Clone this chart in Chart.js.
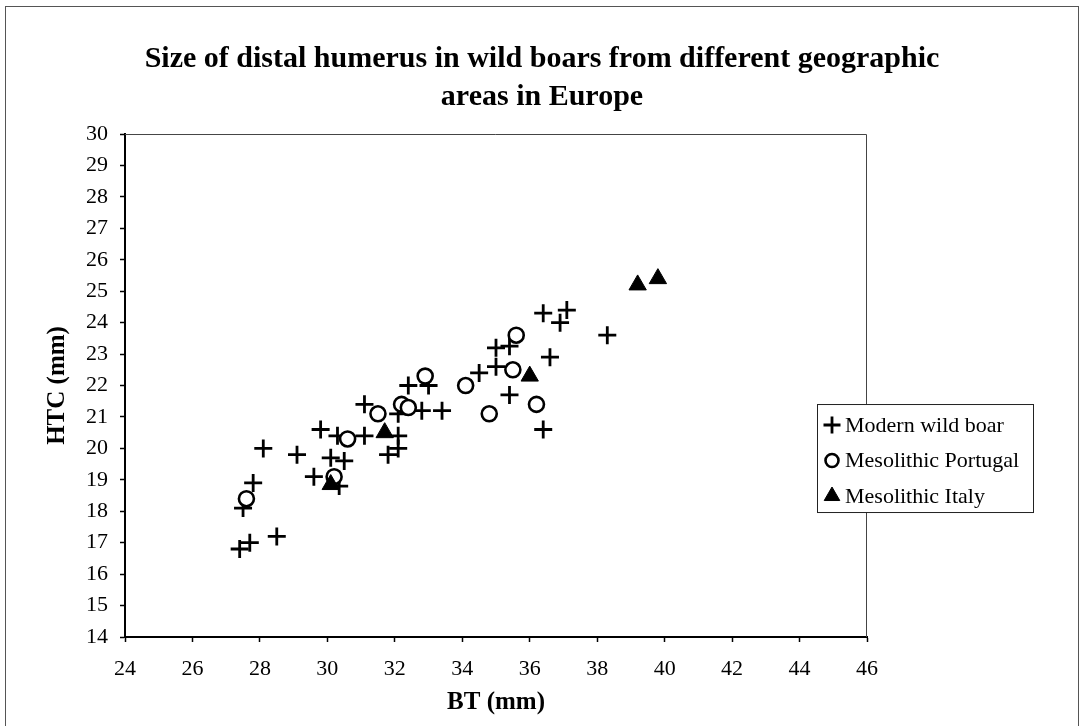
<!DOCTYPE html>
<html lang="en">
<head>
  <meta charset="UTF-8">
  <title>Size of distal humerus in wild boars</title>
  <script src="https://cdn.jsdelivr.net/npm/chart.js@4"></script>
  <style>
    body { margin: 0; background: #fff; }
    #wrap { position: relative; width: 1084px; height: 726px; overflow: hidden; }
    #frame { position: absolute; left: 5px; top: 6px; width: 1072px; height: 760px; border: 1px solid #555; pointer-events: none; }
  </style>
</head>
<body>
  <div id="wrap">
    <canvas id="boarChart" width="1084" height="726"></canvas>
    <div id="frame"></div>
  </div>

  <script>
    // BT / HTC measurements (mm) per group
    const seriesNames = ['Modern wild boar', 'Mesolithic Portugal', 'Mesolithic Italy'];

    const modernBT  = [27.4, 27.7, 28.5, 27.5, 27.8, 28.1, 29.1, 29.6, 29.8, 30.1, 30.35, 30.5, 30.3, 31.1, 31.1, 32.1, 31.8,
                       32.1, 32.1, 32.8, 33.4, 32.4, 33.0, 34.5, 35.0, 35.4, 35.0, 35.4, 36.4, 36.6, 36.4, 37.1, 36.9, 38.3];
    const modernHTC = [16.8, 17.0, 17.2, 18.1, 18.9, 20.0, 19.8, 19.1, 20.6, 19.7, 18.8, 19.6, 20.4, 20.4, 21.4, 20.4, 19.8,
                       20.0, 21.1, 21.2, 21.2, 22.0, 22.0, 22.4, 23.2, 23.25, 22.6, 21.7, 20.6, 22.9, 24.3, 24.4, 24.0, 23.6];

    const portugalBT  = [27.6, 30.2, 30.6, 31.5, 32.2, 32.4, 32.9, 34.1, 34.8, 35.5, 35.6, 36.2];
    const portugalHTC = [18.4, 19.1, 20.3, 21.1, 21.4, 21.3, 22.3, 22.0, 21.1, 22.5, 23.6, 21.4];

    const italyBT  = [30.1, 31.7, 36.0, 39.2, 39.8];
    const italyHTC = [18.85, 20.5, 22.3, 25.2, 25.4];

    const xTicks = { min: 24, max: 46, step: 2 };
    const yTicks = { min: 14, max: 30, step: 1 };

    const toPoints = (xs, ys) => xs.map((x, i) => ({ x: x, y: ys[i] }));

    const serif = '"Liberation Serif", "Times New Roman", serif';

    // top/right edges of the plot box (left and bottom come from the axes)
    const plotFrame = {
      id: 'plotFrame',
      beforeDatasetsDraw(chart) {
        const { ctx, chartArea: a } = chart;
        ctx.save();
        ctx.strokeStyle = '#444';
        ctx.lineWidth = 1;
        ctx.beginPath();
        ctx.moveTo(a.left, a.top + 0.5);
        ctx.lineTo(a.right - 0.5, a.top + 0.5);
        ctx.lineTo(a.right - 0.5, a.bottom);
        ctx.stroke();
        ctx.restore();
      }
    };

    // boxed legend sitting over the right edge of the plot
    const boxLegend = {
      id: 'boxLegend',
      afterDraw(chart) {
        const { ctx, chartArea: a } = chart;
        const box = { x: a.right - 50, y: a.top + 270, w: 216, h: 108 };
        const legendSizes = [8.5, 6.5, 9];
        ctx.save();
        ctx.fillStyle = '#fff';
        ctx.strokeStyle = '#222';
        ctx.lineWidth = 1;
        ctx.fillRect(box.x, box.y, box.w, box.h);
        ctx.strokeRect(box.x + 0.5, box.y + 0.5, box.w, box.h);

        chart.data.datasets.forEach((ds, i) => {
          const cy = box.y + 21 + i * 35.5;
          ctx.fillStyle = ds.pointBackgroundColor;
          ctx.strokeStyle = ds.pointBorderColor;
          ctx.lineWidth = ds.pointBorderWidth;
          Chart.helpers.drawPoint(ctx, {
            pointStyle: ds.pointStyle,
            radius: legendSizes[i],
            rotation: 0,
            borderWidth: ds.pointBorderWidth
          }, box.x + 15, cy);

          ctx.fillStyle = '#000';
          ctx.font = '22px ' + serif;
          ctx.textBaseline = 'middle';
          ctx.textAlign = 'left';
          ctx.fillText(ds.label, box.x + 28, cy + 1);
        });
        ctx.restore();
      }
    };

    const axisGrid = { drawOnChartArea: false, drawTicks: true, tickLength: 5, tickColor: '#000', tickWidth: 1.5 };

    new Chart(document.getElementById('boarChart'), {
      type: 'scatter',
      data: {
        datasets: [
          {
            label: seriesNames[0],
            data: toPoints(modernBT, modernHTC),
            pointStyle: 'cross',
            pointRadius: 9,
            pointBorderWidth: 2.8,
            pointBorderColor: '#000',
            pointBackgroundColor: '#000',
            order: 3
          },
          {
            label: seriesNames[1],
            data: toPoints(portugalBT, portugalHTC),
            pointStyle: 'circle',
            pointRadius: 7.5,
            pointBorderWidth: 2.6,
            pointBorderColor: '#000',
            pointBackgroundColor: '#fff',
            order: 2
          },
          {
            label: seriesNames[2],
            data: toPoints(italyBT, italyHTC),
            pointStyle: 'triangle',
            pointRadius: 10,
            pointBorderWidth: 1,
            pointBorderColor: '#000',
            pointBackgroundColor: '#000',
            order: 1
          }
        ]
      },
      options: {
        responsive: false,
        animation: false,
        layout: { padding: 0 },
        plugins: {
          legend: { display: false },
          tooltip: { enabled: false },
          title: {
            display: true,
            text: ['Size of distal humerus in wild boars from different geographic', 'areas in Europe'],
            color: '#000',
            font: { family: serif, size: 30, weight: 'bold', lineHeight: 1.267 },
            padding: { top: 40, bottom: 18 }
          }
        },
        scales: {
          x: {
            type: 'linear',
            min: xTicks.min,
            max: xTicks.max,
            ticks: { stepSize: xTicks.step, color: '#000', font: { family: serif, size: 22 }, padding: 14, maxRotation: 0, autoSkip: false },
            grid: axisGrid,
            border: { color: '#000', width: 2 },
            title: { display: true, text: 'BT (mm)', color: '#000', font: { family: serif, size: 25, weight: 'bold' }, padding: { top: 0, bottom: 8 } },
            afterFit(scale) { scale.height = 89; }
          },
          y: {
            min: yTicks.min,
            max: yTicks.max,
            ticks: { stepSize: yTicks.step, color: '#000', font: { family: serif, size: 22 }, padding: 12, autoSkip: false },
            grid: axisGrid,
            border: { color: '#000', width: 2 },
            title: { display: true, text: 'HTC (mm)', color: '#000', font: { family: serif, size: 25, weight: 'bold' }, padding: { top: 43, bottom: 0 } },
            afterFit(scale) { scale.width = 125; }
          },
          // empty axis that only keeps the space to the right of the plot
          spacer: {
            position: 'right',
            display: true,
            grid: { display: false },
            border: { display: false },
            ticks: { display: false },
            afterFit(scale) { scale.width = 217; }
          }
        }
      },
      plugins: [plotFrame, boxLegend]
    });
  </script>
</body>
</html>
